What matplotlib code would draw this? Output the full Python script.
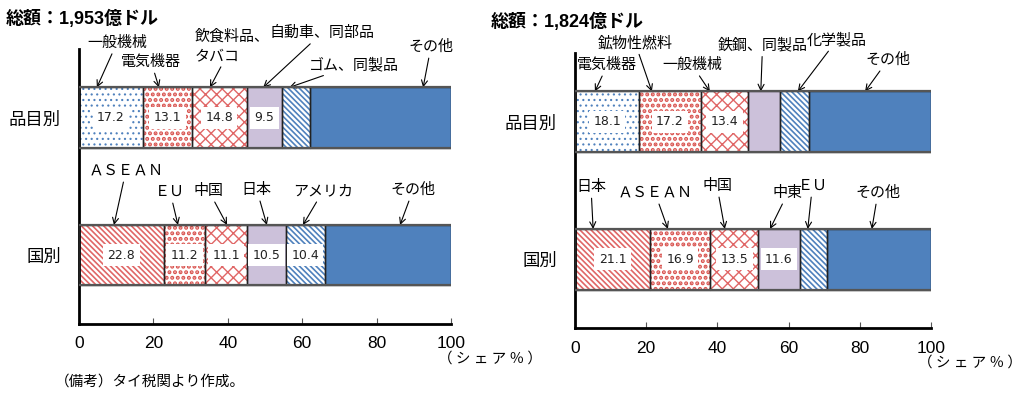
import numpy as np
import matplotlib
import matplotlib.pyplot as plt

matplotlib.use("Agg")
plt.rcParams['font.family'] = ['Noto Sans CJK JP', 'DejaVu Sans']

rows = ["国別", "品目別"]
x_ticks = [0, 20, 40, 60, 80, 100]

# left panel
left_total = "総額：1,953億ドル"
left_item_names = ["一般機械", "電気機器", "飲食料品、\nタバコ", "自動車、同部品", "ゴム、同製品", "その他"]
left_item_vals = [17.2, 13.1, 14.8, 9.5, 7.6, 37.8]
left_ctry_names = ["ＡＳＥＡＮ", "ＥＵ", "中国", "日本", "アメリカ", "その他"]
left_ctry_vals = [22.8, 11.2, 11.1, 10.5, 10.4, 34.0]

# right panel
right_total = "総額：1,824億ドル"
right_item_names = ["電気機器", "鉱物性燃料", "一般機械", "鉄鋼、同製品", "化学製品", "その他"]
right_item_vals = [18.1, 17.2, 13.4, 8.9, 8.2, 34.2]
right_ctry_names = ["日本", "ＡＳＥＡＮ", "中国", "中東", "ＥＵ", "その他"]
right_ctry_vals = [21.1, 16.9, 13.5, 11.6, 7.8, 29.1]

# how many segments carry a value label
left_item_nlab, left_ctry_nlab = 4, 5
right_item_nlab, right_ctry_nlab = 3, 4

note = "（備考）タイ税関より作成。"
unit = "（ シ ェ ア ％ ）"

BLUE = "#4F81BD"
RED = "#D9534F"
LAV = "#CCC1DA"
# (facecolor, hatch colour, hatch, hatch lw)
DOTS = ("white", BLUE, "...", 0.8)
SQUARES = ("white", RED, "...", 2.0)
LATTICE = ("white", "#E06666", "xxx", 1.0)
LAV_FILL = (LAV, LAV, None, 1.0)
BLUE_STRIPE = ("white", BLUE, "\\\\\\\\\\\\", 1.2)
RED_STRIPE = ("white", "#E06666", "\\\\\\\\\\\\", 1.2)
BLUE_FILL = (BLUE, BLUE, None, 1.0)
item_styles = [DOTS, SQUARES, LATTICE, LAV_FILL, BLUE_STRIPE, BLUE_FILL]
ctry_styles = [RED_STRIPE, SQUARES, LATTICE, LAV_FILL, BLUE_STRIPE, BLUE_FILL]

# annotation layout: (tip x, text x, text y) in data units
left_item_ann = [(4.8, 10.2, 1.545), (21.5, 19.4, 1.405), (35.2, 31.0, 1.52),
                 (49.5, 65.3, 1.616), (56.5, 73.9, 1.384), (92.5, 94.6, 1.515)]
left_ctry_ann = [(9.4, 12.6, 0.613), (26.6, 24.5, 0.46), (39.8, 34.9, 0.467),
                 (50.5, 47.8, 0.475), (60.2, 65.6, 0.467), (86.3, 89.8, 0.475)]
right_item_ann = [(5.6, 9.1, 1.413), (21.6, 16.9, 1.573), (37.9, 32.9, 1.413),
                  (52.2, 52.7, 1.558), (62.6, 73.6, 1.595), (81.5, 87.9, 1.449)]
right_ctry_ann = [(5.1, 4.5, 0.525), (26.1, 22.5, 0.482), (42.1, 39.9, 0.533),
                  (54.8, 59.8, 0.482), (65.4, 66.7, 0.533), (83.4, 85.1, 0.482)]

BAR_H = 0.44


def _stack(ax, ypos, vals, styles, nlab):
    lefts = np.concatenate([[0], np.cumsum(vals)[:-1]])
    for i, (l, v, (fc, hc, hatch, hlw)) in enumerate(zip(lefts, vals, styles)):
        with plt.rc_context({"hatch.linewidth": hlw}):
            ax.barh(ypos, v, left=l, height=BAR_H, color=fc, edgecolor=hc,
                    hatch=hatch, lw=0, zorder=2)
        ax.barh(ypos, v, left=l, height=BAR_H, color="none",
                edgecolor="#222222", lw=1.0, zorder=3)
        if i < nlab:
            ax.text(l + v / 2, ypos, f"{v:.1f}", ha="center", va="center",
                    fontsize=9, family=["DejaVu Sans"], color="#222222", zorder=5,
                    bbox=dict(boxstyle="square,pad=0.35", fc="white", ec="none"))
    # outer top / bottom outline
    ax.hlines([ypos - BAR_H / 2, ypos + BAR_H / 2], 0, sum(vals),
              color="#555555", lw=1.6, zorder=4)


def _annotate(ax, ypos, names, ann):
    for name, (tx, lx, ly) in zip(names, ann):
        ha = "left" if "\n" in name else "center"
        ax.annotate(name, xy=(tx, ypos + BAR_H / 2), xytext=(lx, ly),
                    ha=ha, va="center", fontsize=10.8, annotation_clip=False,
                    linespacing=1.45,
                    arrowprops=dict(arrowstyle="->", color="black", lw=0.8,
                                    shrinkA=1, shrinkB=0))


def _panel(fig, rect, item_vals, ctry_vals, item_names, ctry_names,
           item_ann, ctry_ann, item_nlab, ctry_nlab):
    ax = fig.add_axes(rect)
    _stack(ax, 1, item_vals, item_styles, item_nlab)
    _stack(ax, 0, ctry_vals, ctry_styles, ctry_nlab)
    _annotate(ax, 1, item_names, item_ann)
    _annotate(ax, 0, ctry_names, ctry_ann)
    ax.set_xlim(0, 100)
    ax.set_ylim(-0.5, 1.5)
    ax.set_yticks([0, 1])
    ax.set_yticklabels(rows, fontsize=12.5)
    ax.tick_params(axis="y", length=0, pad=13)
    ax.set_xticks(x_ticks)
    ax.set_xticklabels([str(t) for t in x_ticks], fontsize=12.5,
                       family=["Liberation Sans"])
    ax.tick_params(axis="x", direction="in", length=4, width=0.8,
                   color="#555555", pad=9)
    for s in ["top", "right"]:
        ax.spines[s].set_visible(False)
    for s in ["left", "bottom"]:
        ax.spines[s].set_linewidth(2)
        ax.spines[s].set_color("black")
    ax.text(0.965, -0.125, unit, transform=ax.transAxes, ha="left", va="center",
            fontsize=10.5)
    return ax


fig = plt.figure(figsize=(10.22, 3.94), dpi=100)

_panel(fig, [0.0773, 0.1777, 0.364, 0.698], left_item_vals, left_ctry_vals,
       left_item_names, left_ctry_names, left_item_ann, left_ctry_ann,
       left_item_nlab, left_ctry_nlab)
_panel(fig, [0.5626, 0.1675, 0.3483, 0.698], right_item_vals, right_ctry_vals,
       right_item_names, right_ctry_names, right_item_ann, right_ctry_ann,
       right_item_nlab, right_ctry_nlab)

title_font = ["Liberation Sans", "Noto Sans CJK JP"]
fig.text(6 / 1022, 1 - 19 / 394, left_total, ha="left", va="center",
         fontsize=13, fontweight="bold", family=title_font)
fig.text(491 / 1022, 1 - 22 / 394, right_total, ha="left", va="center",
         fontsize=13, fontweight="bold", family=title_font)
fig.text(55 / 1022, 1 - 382 / 394, note, ha="left", va="center", fontsize=10.5)

fig.savefig("out.png", dpi=100)
